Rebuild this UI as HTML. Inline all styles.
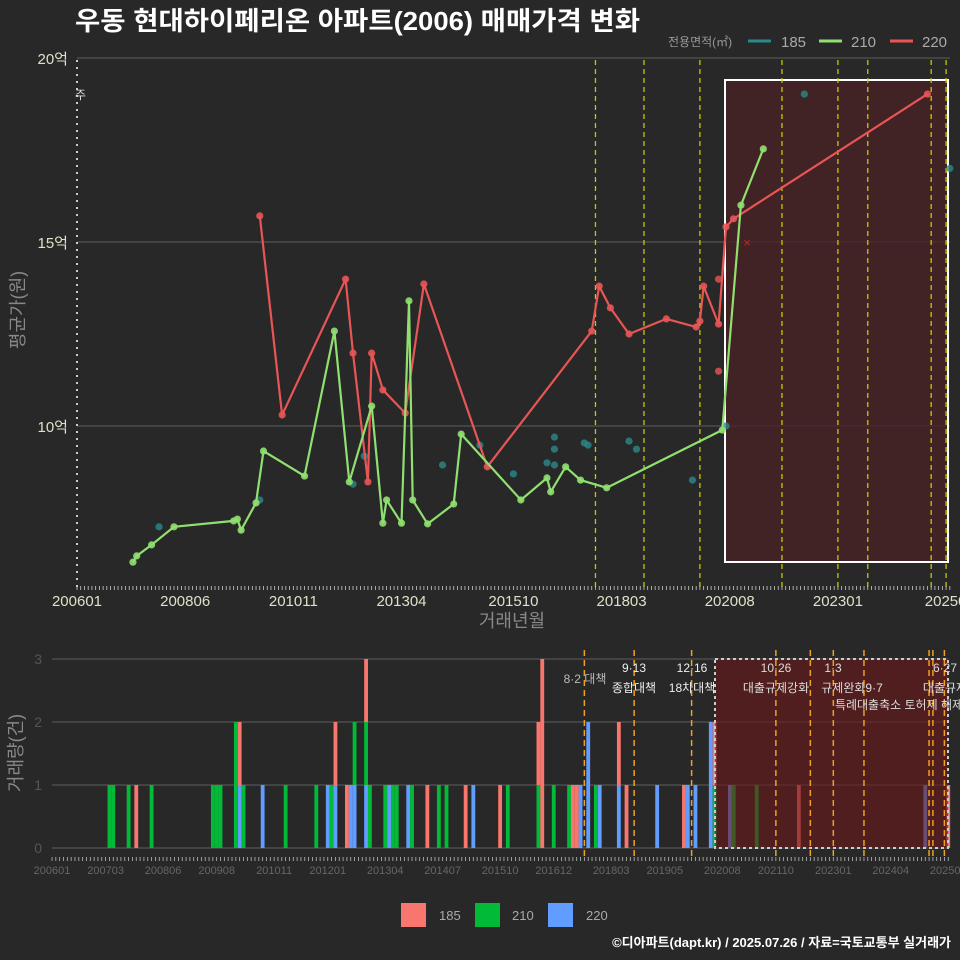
<!DOCTYPE html>
<html><head><meta charset="utf-8"><style>
body{margin:0;background:#282828;overflow:hidden;}
svg{display:block;font-family:"Liberation Sans","Noto Sans CJK KR",sans-serif;}
</style></head><body>
<svg id="chart" width="960" height="960" viewBox="0 0 960 960">
<rect width="960" height="960" fill="#282828"/>
<text x="75" y="30" font-size="26" font-weight="bold" fill="#fff" textLength="565" lengthAdjust="spacingAndGlyphs">우동 현대하이페리온 아파트(2006) 매매가격 변화</text>
<g font-size="15" fill="#aaa">
<text x="668" y="46" font-size="12" fill="#999">전용면적(㎡)</text>
<line x1="748" y1="41" x2="771" y2="41" stroke="#2a8a8a" stroke-width="3"/>
<text x="781" y="47">185</text>
<line x1="819" y1="41" x2="842" y2="41" stroke="#90e070" stroke-width="3"/>
<text x="851" y="47">210</text>
<line x1="890" y1="41" x2="913" y2="41" stroke="#e85555" stroke-width="3"/>
<text x="922" y="47">220</text>
</g>
<g id="topg"></g>
<g id="botg"></g>
<text transform="translate(24,310) rotate(-90)" text-anchor="middle" font-size="18" fill="#888">평균가(원)</text>
<text x="512" y="627" text-anchor="middle" font-size="18" fill="#888">거래년월</text>
<text transform="translate(22,753) rotate(-90)" text-anchor="middle" font-size="18" fill="#888">거래량(건)</text>
<g font-size="13" fill="#aaa">
<rect x="401" y="903" width="25" height="24" fill="#f8766d"/><text x="439" y="920">185</text>
<rect x="475" y="903" width="25" height="24" fill="#00ba38"/><text x="512" y="920">210</text>
<rect x="548" y="903" width="25" height="24" fill="#619cff"/><text x="586" y="920">220</text>
</g>
<text x="951" y="947" text-anchor="end" font-size="13" font-weight="bold" fill="#fff">©디아파트(dapt.kr) / 2025.07.26 / 자료=국토교통부 실거래가</text>
</svg>
<script>
const tickLabels=["200601","200806","201011","201304","201510","201803","202008","202301","202507"];
const botTickLabels=["200601","200703","200806","200908","201011","201201","201304","201407","201510","201612","201803","201905","202008","202110","202301","202404","202507"];
const yTicks=[10,15,20];
const countTicks=[0,1,2,3];
const policyMonths=["2017-08","2018-09","2019-12","2021-10","2023-01","2023-09","2025-02","2025-06"];
const s210Dates=["2007-04","2007-05","2007-09","2008-03","2009-07","2009-08","2009-09","2010-01","2010-03","2011-02","2011-10","2012-02","2012-08","2012-11","2012-12","2013-04","2013-06","2013-07","2013-11","2014-06","2014-08","2015-12","2016-07","2016-08","2016-12","2017-04","2017-11","2020-06","2020-11","2021-05"];
const s210Vals=[6.30,6.47,6.77,7.26,7.42,7.47,7.17,7.91,9.32,8.64,12.58,8.48,10.54,7.36,7.99,7.36,13.40,7.99,7.34,7.88,9.78,7.99,8.59,8.21,8.89,8.53,8.32,9.89,16.0,17.53];
const s220Dates=["2010-02","2010-08","2012-01","2012-03","2012-07","2012-08","2012-11","2013-05","2013-10","2015-03","2017-07","2017-09","2017-12","2018-05","2019-03","2019-11","2019-12","2020-01","2020-05","2020-07","2020-09","2025-01"];
const s220Vals=[15.71,10.30,13.99,11.98,8.48,11.98,10.98,10.35,13.86,8.89,12.58,13.80,13.21,12.50,12.91,12.69,12.85,13.80,12.77,15.41,15.63,19.02];
const x220Dates=["2020-05","2020-05"];
const x220Vals=[13.99,11.49];
const s185Dates=["2007-11","2010-02","2012-03","2012-06","2014-03","2015-01","2015-10","2016-07","2016-09","2016-09","2016-09","2017-05","2017-06","2018-05","2018-07","2019-10","2020-07","2022-04","2025-07"];
const s185Vals=[7.26,7.99,8.42,9.18,8.94,9.48,8.70,9.0,9.70,9.37,8.94,9.54,9.48,9.59,9.37,8.53,10.0,19.02,17.0];
const bars185=["2007-11","2010-02","2012-03","2012-06","2012-11","2014-03","2015-01","2015-10","2016-08","2016-09","2016-09","2016-09","2017-05","2017-06","2018-05","2018-07","2019-10","2020-06","2022-04","2025-07"];
const bars210=["2007-04","2007-05","2007-09","2008-03","2009-07","2009-08","2009-09","2010-01","2010-01","2010-03","2011-02","2011-10","2012-02","2012-08","2012-11","2012-12","2013-04","2013-06","2013-07","2013-11","2014-06","2014-08","2015-12","2016-08","2016-12","2017-04","2017-11","2020-06","2020-11","2021-05"];
const bars220=["2010-02","2010-08","2012-01","2012-03","2012-07","2012-08","2012-11","2013-05","2013-10","2015-03","2017-07","2017-09","2017-09","2017-12","2018-05","2019-03","2019-11","2020-01","2020-05","2020-05","2020-10","2025-01"];

const NS="http://www.w3.org/2000/svg";
function mi(d){const y=+d.slice(0,4),m=+d.slice(5,7);return (y-2006)*12+m-1;}
function lm(l){return (+l.slice(0,4)-2006)*12+(+l.slice(4,6))-1;}
const xT=m=>77+m*3.73, yT=v=>426-(v-10)*36.8;
const xB=m=>52+m*3.83, yB=c=>848-c*63;
function el(p,t,a){const e=document.createElementNS(NS,t);for(const k in a)e.setAttribute(k,a[k]);p.appendChild(e);return e;}
const gTop=document.getElementById('topg'), gBot=document.getElementById('botg');

yTicks.forEach(v=>{
 const g=el(gTop,'line',{x1:77,x2:950,y1:yT(v),y2:yT(v),stroke:'#5e5e5e','stroke-width':1});
 
 
 const t=el(gTop,'text',{x:68,y:yT(v)+6,'text-anchor':'end','font-size':15,fill:'#e0e0c8'});t.textContent=v+'억';
 
 
});
el(gTop,'line',{x1:77,x2:77,y1:60,y2:587,stroke:'#ccc','stroke-width':2,'stroke-dasharray':'2,5'});
const ju=el(gTop,'text',{x:75,y:99,'font-size':12,fill:'#ddd'});ju.textContent='주';


const box=el(gTop,'rect',{x:725,y:80,width:223,height:482,fill:'#4a2024','fill-opacity':0.75,stroke:'#fff','stroke-width':2});


policyMonths.forEach(d=>{
 const l=el(gTop,'line',{x1:xT(mi(d)),x2:xT(mi(d)),y1:60,y2:587,stroke:'#c8c800','stroke-width':1.3,'stroke-dasharray':'5,4'});
 
 
});
for(let m=0;m<=234;m+=1){el(gTop,'line',{x1:xT(m),x2:xT(m),y1:586,y2:590,stroke:'#ccc','stroke-width':0.8});}
tickLabels.forEach(l=>{const t=el(gTop,'text',{x:xT(lm(l)),y:606,'text-anchor':'middle','font-size':15,fill:'#e0e0c8'});t.textContent=l;
 
 });
function dots(dates,vals,color,name,op){dates.forEach((d,i)=>{const c=el(gTop,'circle',{cx:xT(mi(d)),cy:yT(vals[i]),r:3.6,fill:color,'fill-opacity':op});
 
 });}
function line(dates,vals,color,name){const p=dates.map((d,i)=>xT(mi(d)).toFixed(1)+','+yT(vals[i]).toFixed(1)).join(' ');
 const l=el(gTop,'polyline',{points:p,fill:'none',stroke:color,'stroke-width':2.2});
 
 }
dots(s185Dates,s185Vals,'#2a8a8a','point-185',0.8);
line(s220Dates,s220Vals,'#e85555','line-220');
dots(s220Dates,s220Vals,'#e85555','point-220',0.9);
dots(x220Dates,x220Vals,'#e85555','point-220',0.8);
line(s210Dates,s210Vals,'#90e070','line-210');
dots(s210Dates,s210Vals,'#90e070','point-210',0.9);
const xm=el(gTop,'text',{x:747,y:247,'text-anchor':'middle','font-size':13,fill:'#d02020'});xm.textContent='×';



countTicks.forEach(c=>{
 const g=el(gBot,'line',{x1:52,x2:948,y1:yB(c),y2:yB(c),stroke:'#5e5e5e','stroke-width':1});
 
 
 const t=el(gBot,'text',{x:42,y:yB(c)+5,'text-anchor':'end','font-size':14,fill:'#555'});t.textContent=c;
 
 
});
const stack={};
function bars(list,color,name){list.forEach(d=>{const m=mi(d);const b=stack[m]||0;stack[m]=b+1;
 const r=el(gBot,'rect',{x:xB(m)-1.9,y:yB(b+1),width:3.83,height:63,fill:color});
 
 });}
bars(bars220,'#619cff','bar-220');
bars(bars210,'#00ba38','bar-210');
bars(bars185,'#f8766d','bar-185');
const sh=el(gBot,'rect',{x:715,y:659,width:233,height:189,fill:'#6a1818','fill-opacity':0.6,stroke:'#ccc','stroke-width':2,'stroke-dasharray':'3,3'});


const bPol=["2017-08","2018-09","2019-12","2021-10","2022-07","2023-01","2023-09","2025-02","2025-03","2025-06"];
bPol.forEach(d=>{const l=el(gBot,'line',{x1:xB(mi(d)),x2:xB(mi(d)),y1:650,y2:857,stroke:'#f0a020','stroke-width':1.5,'stroke-dasharray':'6,4'});
 
 });
for(let m=0;m<=234;m++){el(gBot,'line',{x1:xB(m),x2:xB(m),y1:857,y2:861,stroke:'#bbb','stroke-width':0.8});}
botTickLabels.forEach(l=>{const t=el(gBot,'text',{x:xB(lm(l)),y:874,'text-anchor':'middle','font-size':11,fill:'#666'});t.textContent=l;
 
 });
const ann=[["8·2 대책",585,683,'#bbb'],["9·13",634,672,'#eee'],["종합대책",634,692,'#eee'],["12·16",692,672,'#eee'],["18차대책",692,692,'#eee'],["10·26",776,672,'#ddd'],["대출규제강화",776,692,'#ddd'],["1·3",833,672,'#ddd'],["규제완화9·7",852,692,'#ddd'],["특례대출축소 토허제 해제",899,709,'#ddd'],["6·27",945,672,'#ddd'],["대출규제",945,692,'#ddd']];
ann.forEach(a=>{const t=el(gBot,'text',{x:a[1],y:a[2],'text-anchor':'middle','font-size':12,fill:a[3]});t.textContent=a[0];
 
 });
</script>
</body></html>
